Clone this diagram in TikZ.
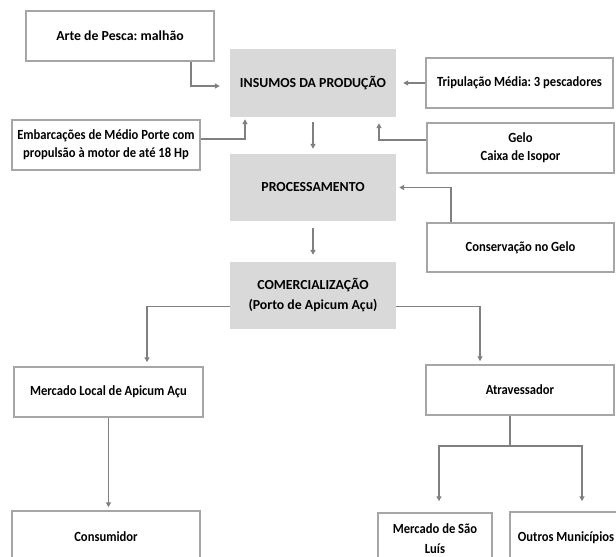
\documentclass[tikz,border=0pt]{standalone}
\usepackage{fontspec}
\setmainfont{Carlito}
\newfontfamily\narrowfont{Carlito}[FakeStretch=0.9]
\frenchspacing
\usetikzlibrary{arrows.meta}
\definecolor{boxline}{HTML}{A6A6A6}
\definecolor{connline}{HTML}{808080}
\definecolor{grayfill}{HTML}{D9D9D9}
\tikzset{
  wbox/.style={draw=boxline, line width=1.5pt, fill=white, rectangle, align=center,
    inner sep=0pt, font=\narrowfont\fontsize{14}{18}\selectfont\bfseries},
  widebox/.style={wbox, font=\normalfont\fontsize{13.8}{18}\selectfont\bfseries},
  gbox/.style={fill=grayfill, rectangle, align=center, inner sep=0pt,
    font=\fontsize{13.8}{20}\selectfont\bfseries},
  conn/.style={draw=connline, line width=1.4pt,
    -{Triangle[length=5pt,width=5pt]}},
  plainconn/.style={draw=connline, line width=1.4pt},
}
\begin{document}
\begin{tikzpicture}[x=1pt,y=-1pt]
\useasboundingbox (0,0) rectangle (616,557);
% boxes
\node[widebox, minimum width=188pt, minimum height=50pt] (arte) at (120,36) {Arte de Pesca: malhão};
\node[gbox, minimum width=166pt, minimum height=68pt] (insumos) at (313,83) {INSUMOS DA PRODUÇÃO};
\node[wbox, minimum width=187pt, minimum height=50pt] (trip) at (519.5,83) {Tripulação Média: 3 pescadores};
\node[wbox, minimum width=188pt, minimum height=50pt] (emb) at (106,145) {Embarcações de Médio Porte com\\propulsão à motor de até 18 Hp};
\node[wbox, minimum width=187pt, minimum height=50pt] (gelo) at (520.5,148) {Gelo\\Caixa de Isopor};
\node[gbox, minimum width=166pt, minimum height=67pt] (proc) at (313,187.5) {PROCESSAMENTO};
\node[wbox, minimum width=187pt, minimum height=49pt] (cons) at (520.5,247.5) {Conservação no Gelo};
\node[gbox, minimum width=166pt, minimum height=67pt] (comerc) at (313,295.5) {COMERCIALIZAÇÃO\\(Porto de Apicum Açu)};
\node[wbox, minimum width=189pt, minimum height=50pt] (mloc) at (108.5,392) {Mercado Local de Apicum Açu};
\node[wbox, minimum width=188pt, minimum height=50pt] (atrav) at (520,390) {Atravessador};
\node[wbox, minimum width=188pt, minimum height=52pt] (consum) at (106,537) {Consumidor};
\node[wbox, minimum width=114pt, minimum height=52pt, font=\narrowfont\fontsize{14}{20}\selectfont\bfseries] (saoluis) at (435,539) {Mercado de São\\Luís};
\node[wbox, minimum width=112pt, minimum height=52pt] (outros) at (566,538) {Outros Municípios};
% connectors
\draw[conn, shorten >=10pt] ([xshift=71pt]arte.south) |- ([yshift=-3pt]insumos.west);
\draw[conn, shorten >=7pt] (trip.west) -- (insumos.east);
\draw[conn, shorten >=2pt] ([yshift=6pt]emb.east) -| ([xshift=-68pt]insumos.south);
\draw[conn, shorten >=6pt] ([yshift=8pt]gelo.west) -| ([xshift=66pt]insumos.south);
\draw[conn, shorten <=5pt, shorten >=5pt] (insumos.south) -- (proc.north);
\draw[conn, shorten >=3pt] ([xshift=-69.5pt]cons.north) |- (proc.east);
\draw[conn, shorten <=7pt, shorten >=7pt] (proc.south) -- (comerc.north);
\draw[conn, shorten >=4pt] ([yshift=-11pt]comerc.west) -| ([xshift=38.5pt]mloc.north);
\draw[conn, shorten >=3pt] ([yshift=-11pt]comerc.east) -| ([xshift=-40pt]atrav.north);
\draw[conn, shorten >=3pt] (mloc.south) -- (mloc.south |- consum.north);
\coordinate (split) at (510,446);
\draw[plainconn] (atrav.south -| split) -- (split);
\draw[conn, shorten >=11pt] (split) -| ([xshift=4pt]saoluis.north);
\draw[conn, shorten >=10pt] (split) -| ([xshift=16pt]outros.north);
\end{tikzpicture}
\end{document}
